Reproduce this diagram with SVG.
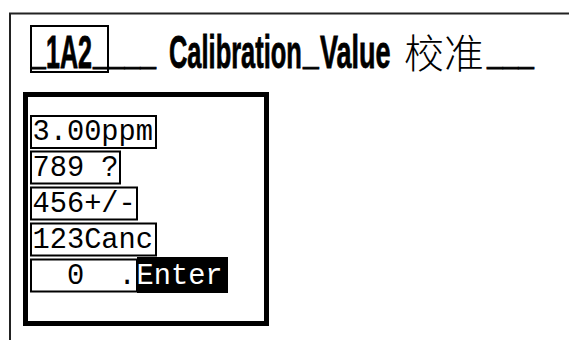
<svg xmlns="http://www.w3.org/2000/svg" width="569" height="340" viewBox="0 0 569 340">
<style>
.frame{fill:none;stroke:#222;stroke-width:2}
.ttl{font-family:"Liberation Sans",Arial,sans-serif;font-weight:bold;font-size:46px;fill:#000;stroke:#000;stroke-width:0.8}
.cjk{font-family:"Noto Sans CJK SC","Noto Sans CJK TC",sans-serif;font-size:40px;font-weight:300;fill:#000}
.key{fill:#fff;stroke:#000;stroke-width:2}
.mono{font-family:"Liberation Mono","Courier New",monospace;font-size:28.7px;fill:#000;white-space:pre}
</style>
<rect width="569" height="340" fill="#fff"/>
<g id="outer-frame">
<rect class="frame" x="10" y="13.5" width="620" height="400"/>
</g>
<g id="title">
<rect x="31" y="26" width="77" height="46" fill="none" stroke="#000" stroke-width="2"/>
<text class="ttl" transform="translate(31,63) scale(0.58,1)">_</text>
<text class="ttl" transform="translate(46,68) scale(0.545,1)">1A2</text>
<text class="ttl" transform="translate(93,63) scale(0.617,1)">____</text>
<text class="ttl" transform="translate(169,68) scale(0.553,1)">Calibration</text>
<text class="ttl" transform="translate(303,63) scale(0.617,1)">_</text>
<text class="ttl" transform="translate(320,68) scale(0.587,1)">Value</text>
<text class="cjk" x="404" y="68">校准</text>
<text class="ttl" transform="translate(487,63) scale(0.612,1)">___</text>
</g>
<g id="panel">
<rect x="25.5" y="94.5" width="241" height="229" fill="#fff" stroke="#000" stroke-width="5"/>
</g>
<g id="key-ppm">
<rect class="key" x="31" y="116" width="125" height="32"/>
<text class="mono" x="32.5" y="140">3.00ppm</text>
</g>
<g id="key-789">
<rect class="key" x="31" y="151.5" width="89" height="32"/>
<text class="mono" x="32.5" y="176">789 ?</text>
</g>
<g id="key-456">
<rect class="key" x="31" y="187.5" width="106" height="32"/>
<text class="mono" x="32.5" y="212">456+/-</text>
</g>
<g id="key-123">
<rect class="key" x="31" y="223.5" width="125" height="32"/>
<text class="mono" x="32.5" y="248">123Canc</text>
</g>
<g id="key-0">
<rect class="key" x="31" y="259.5" width="106" height="32"/>
<text class="mono" x="32.5" y="284" xml:space="preserve">  0  .</text>
</g>
<g id="key-enter">
<rect x="137" y="257" width="91" height="36" fill="#000"/>
<text class="mono" x="136.5" y="284" style="fill:#fff">Enter</text>
</g>
</svg>
